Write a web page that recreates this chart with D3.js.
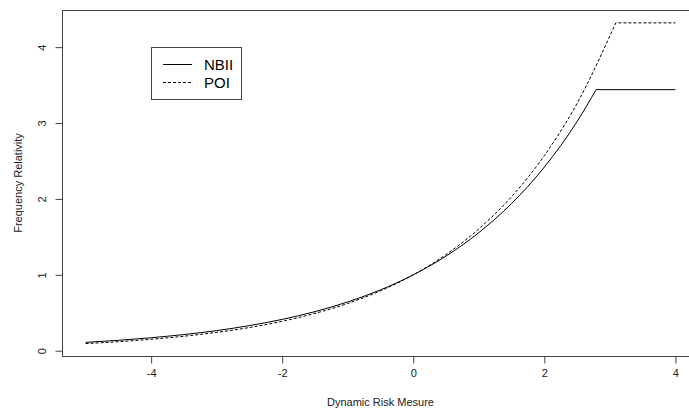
<!DOCTYPE html>
<html>
<head>
<meta charset="utf-8">
<script src="https://cdn.jsdelivr.net/npm/d3@7"></script>
<style>
  body { margin: 0; background: #fff; }
  svg { display: block; font-family: "Liberation Sans", Arial, sans-serif; }
</style>
</head>
<body>
<svg id="chart" width="689" height="409"></svg>
<script>
// values
var xs = [-5, -4.5, -4, -3.5, -3, -2.5, -2, -1.5, -1, -0.5, 0, 0.5, 1, 1.5, 2, 2.5];
var nbii = [0.110, 0.137, 0.171, 0.213, 0.265, 0.331, 0.413, 0.515, 0.643, 0.802, 1.0, 1.247, 1.556, 1.94, 2.42, 3.02];
var poi  = [0.094, 0.119, 0.151, 0.191, 0.242, 0.306, 0.388, 0.492, 0.623, 0.789, 1.0, 1.267, 1.605, 2.03, 2.57, 3.26];
var nbiiCap = [[2.79, 3.44], [4, 3.44]];
var poiCap = [[3.09, 4.32], [4, 4.32]];
var xTicks = [-4, -2, 0, 2, 4];
var yTicks = [0, 1, 2, 3, 4];
var seriesNames = ["NBII", "POI"];

var svg = d3.select("#chart");
var plot = {left: 62, right: 699, top: 10, bottom: 356};

var x = d3.scaleLinear().domain([-5.36, 4.36]).range([plot.left, plot.right]);
var y = d3.scaleLinear().domain([-0.0696, 4.4896]).range([plot.bottom, plot.top]);

var axisColor = "#444";

// box
svg.append("rect")
    .attr("x", plot.left + 0.5).attr("y", plot.top + 0.5)
    .attr("width", plot.right - plot.left).attr("height", plot.bottom - plot.top)
    .style("fill", "none").style("stroke", axisColor).style("stroke-width", 1);

// x axis
var xa = svg.append("g")
    .attr("transform", "translate(0," + (plot.bottom + 0.5) + ")")
    .call(d3.axisBottom(x).tickValues(xTicks).tickSize(7).tickPadding(6).tickFormat(d3.format("d")));
xa.select(".domain").remove();
xa.selectAll("line").style("stroke", axisColor);
xa.selectAll("text").style("font-size", "11px").style("fill", "#222")
    .text(function(d) { return d < 0 ? "-" + Math.abs(d) : d; });

// y axis
var ya = svg.append("g")
    .attr("transform", "translate(" + (plot.left + 0.5) + ",0)")
    .call(d3.axisLeft(y).tickValues(yTicks).tickSize(7).tickFormat(d3.format("d")));
ya.select(".domain").remove();
ya.selectAll("line").style("stroke", axisColor);
ya.selectAll("text").remove();
ya.selectAll(".tick").append("text")
    .attr("transform", "translate(-20,0) rotate(-90)")
    .attr("text-anchor", "middle")
    .attr("dy", "0.35em")
    .style("font-size", "11px").style("fill", "#222")
    .text(function(d) { return d; });

// axis titles
svg.append("text")
    .attr("x", (plot.left + plot.right) / 2).attr("y", 406)
    .attr("text-anchor", "middle")
    .style("font-size", "11px").style("fill", "#222")
    .text("Dynamic Risk Mesure");

svg.append("text")
    .attr("transform", "translate(22," + ((plot.top + plot.bottom) / 2) + ") rotate(-90)")
    .attr("text-anchor", "middle")
    .style("font-size", "11px").style("fill", "#222")
    .text("Frequency Relativity");

// curves
var line = d3.line()
    .x(function(d) { return x(d[0]); })
    .y(function(d) { return y(d[1]); })
    .curve(d3.curveMonotoneX);

var nbiiPts = xs.map(function(v, i) { return [v, nbii[i]]; }).concat([nbiiCap[0]]);
var poiPts = xs.map(function(v, i) { return [v, poi[i]]; }).concat([poiCap[0]]);

var straight = d3.line()
    .x(function(d) { return x(d[0]); })
    .y(function(d) { return y(d[1]); });

svg.append("path").attr("d", line(nbiiPts))
    .style("fill", "none").style("stroke", "#000").style("stroke-width", 1);
svg.append("path").attr("d", straight(nbiiCap))
    .style("fill", "none").style("stroke", "#000").style("stroke-width", 1);

svg.append("path").attr("d", line(poiPts) + straight(poiCap).replace(/^M/, "L"))
    .style("fill", "none").style("stroke", "#000").style("stroke-width", 1)
    .style("stroke-dasharray", "3,2");

// legend
var lg = svg.append("g");
lg.append("rect")
    .attr("x", 151.5).attr("y", 47.5).attr("width", 90).attr("height", 52)
    .style("fill", "none").style("stroke", axisColor).style("stroke-width", 1);

seriesNames.forEach(function(name, i) {
  var yy = 64.5 + i * 18;
  lg.append("line")
      .attr("x1", 163).attr("x2", 192).attr("y1", yy).attr("y2", yy)
      .style("stroke", "#000").style("stroke-width", 1)
      .style("stroke-dasharray", i == 1 ? "3,2" : null);
  lg.append("text")
      .attr("x", 204).attr("y", yy).attr("dy", "0.35em")
      .style("font-size", "15px").style("fill", "#000")
      .text(name);
});
</script>
</body>
</html>
